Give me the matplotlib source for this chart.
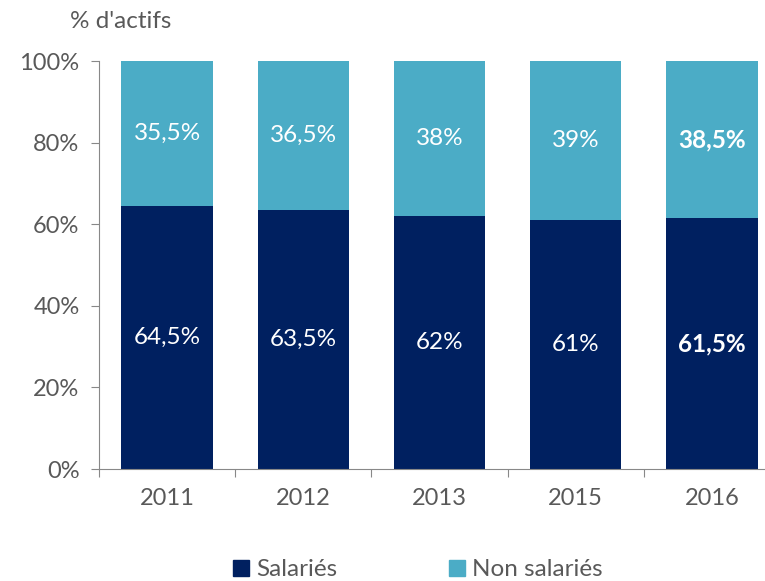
import matplotlib.pyplot as plt
from matplotlib.patches import Patch

plt.rcParams['font.family'] = ['Lato', 'DejaVu Sans']

annees = ['2011', '2012', '2013', '2015', '2016']
salaries = [64.5, 63.5, 62, 61, 61.5]
non_salaries = [35.5, 36.5, 38, 39, 38.5]
lab_sal = ['64,5%', '63,5%', '62%', '61%', '61,5%']
lab_non = ['35,5%', '36,5%', '38%', '39%', '38,5%']

BLEU_FONCE = '#002060'
BLEU_CLAIR = '#4BACC6'
GRIS = '#595959'

fig = plt.figure(figsize=(7.65, 5.81), dpi=100)
ax = fig.add_axes([99 / 765, 1 - 469 / 581, 681 / 765, 408 / 581])

x = range(len(annees))
b1 = ax.bar(x, salaries, width=0.67, color=BLEU_FONCE)
b2 = ax.bar(x, non_salaries, width=0.67, bottom=salaries, color=BLEU_CLAIR)

for i in x:
    gras = 'bold' if i == len(annees) - 1 else 'normal'
    ax.text(i, salaries[i] / 2, lab_sal[i], ha='center', va='center',
            color='white', fontsize=17.5, fontweight=gras)
    ax.text(i, salaries[i] + non_salaries[i] / 2, lab_non[i], ha='center',
            va='center', color='white', fontsize=17.5, fontweight=gras)

ax.set_xlim(-0.5, 4.5)
ax.set_ylim(0, 100)
ax.set_yticks(range(0, 101, 20))
ax.set_yticklabels([f'{v}%' for v in range(0, 101, 20)])
ax.set_xticks([i - 0.5 for i in x])
ax.set_xticklabels([])
ax.set_xticks(list(x), minor=True)
ax.set_xticklabels(annees, minor=True)
ax.tick_params(which='both', labelsize=17, labelcolor=GRIS)
ax.tick_params(axis='x', which='minor', length=0, pad=14)
ax.tick_params(axis='x', which='major', length=6, color='#888888', direction='out')
ax.tick_params(axis='y', length=6, color='#888888', pad=8)
for s in ['top', 'right']:
    ax.spines[s].set_visible(False)
for s in ['left', 'bottom']:
    ax.spines[s].set_color('#888888')

fig.text(70 / 765, 1 - 22 / 581, "% d'actifs", fontsize=17.5, color=GRIS,
         va='center', ha='left')

poignees = [Patch(color=BLEU_FONCE), Patch(color=BLEU_CLAIR)]
fig.legend(poignees, ['Salariés', 'Non salariés'], loc='center',
           bbox_to_anchor=(0.546, 1 - 570 / 581), ncol=2, frameon=False,
           fontsize=17.5, labelcolor=GRIS, handlelength=0.65, handleheight=0.65,
           handletextpad=0.3, columnspacing=4.6)

fig.savefig('out.png', dpi=100)
